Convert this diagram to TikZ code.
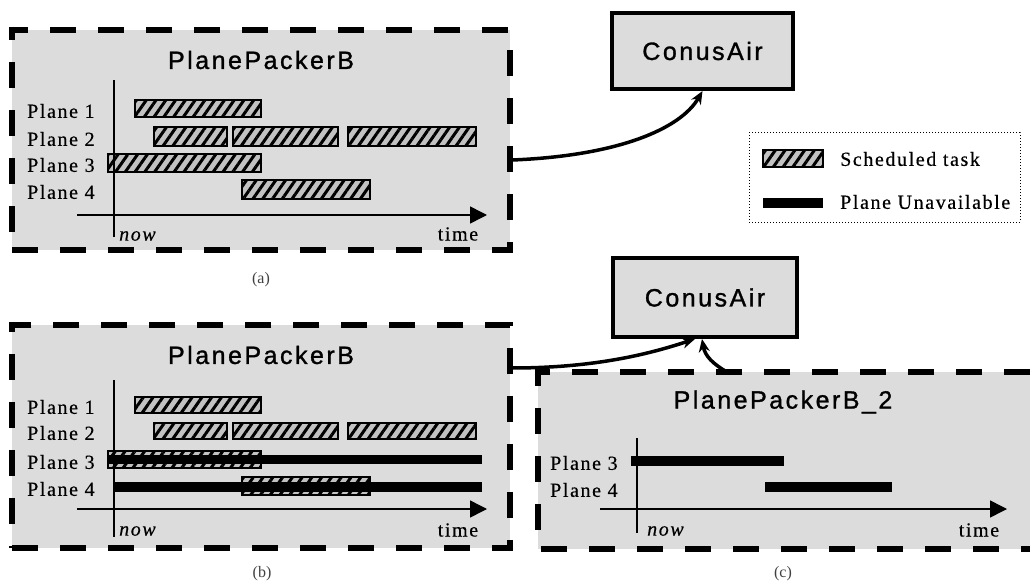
\documentclass[tikz,border=0pt]{standalone}
\usepackage{fontspec}
\setmainfont{Liberation Serif}
\newfontfamily\titlefont[LetterSpace=10,FakeBold=1.2]{Liberation Sans}
\newfontfamily\labelfont[LetterSpace=8,FakeBold=0.4]{Liberation Serif}
\usetikzlibrary{arrows.meta,patterns.meta,calc}
\definecolor{boxgray}{HTML}{DCDCDC}
\definecolor{hatchgray}{HTML}{C2C2C2}
\tikzset{
  agent/.style={draw=black, fill=boxgray, line width=6pt, dash pattern=on 26pt off 22pt, inner sep=0pt},
  agentdash/.style={draw=black, line width=6pt, dash pattern=on 26pt off 22pt},
  conus/.style={draw=black, fill=boxgray, line width=4pt, inner sep=0pt, font=\titlefont\fontsize{25}{29}\selectfont},
  title/.style={font=\titlefont\fontsize{25}{29}\selectfont, inner sep=0pt},
  plane/.style={font=\labelfont\fontsize{20}{24}\selectfont, anchor=west, inner sep=0pt},
  nowlbl/.style={font=\labelfont\itshape\fontsize{20}{24}\selectfont, anchor=west, inner sep=0pt},
  timelbl/.style={font=\labelfont\fontsize{20}{24}\selectfont, inner sep=0pt},
  legtext/.style={font=\labelfont\fontsize{20}{24}\selectfont, anchor=west, inner sep=0pt},
  taxis/.style={line width=1.5pt, -{Triangle[length=17pt,width=17pt]}},
  nowaxis/.style={line width=1.5pt},
  unavail/.style={line width=#1},
  link/.style={line width=3.5pt, -{Stealth[length=13pt,width=11pt]}},
  caption/.style={font=\fontsize{16}{18}\selectfont, text=black!75, inner sep=0pt}
}
\newcommand\taskrect[4]{%
  \fill[hatchgray] (#1,#2) rectangle (#3,#4);
  \path[pattern={Lines[angle=55,distance=8pt,line width=3pt]}, pattern color=black] (#1,#2) rectangle (#3,#4);
  \draw[line width=1.2pt] (#1,#2) rectangle (#3,#4);}
\begin{document}
\begin{tikzpicture}[x=1pt,y=-1pt]
\useasboundingbox (0,0) rectangle (1030,588);
% ---------- (a) ----------
\node[agent, minimum width=498pt, minimum height=220pt] (A) at (261,140) {};
\node[title] (At) at (261,60) {PlanePackerB};
\taskrect{135}{100}{261}{117}
\taskrect{154}{127}{227}{146}
\taskrect{233}{127}{338}{146}
\taskrect{348}{127}{476}{146}
\taskrect{108}{154}{261}{172}
\taskrect{242}{180}{370}{199}
\draw[nowaxis] (114,80) -- (114,237);
\draw[taxis] (77,215) -- (487,215);
\node[plane] (a1l) at (27,111) {Plane 1};
\node[plane] (a2l) at (27,139) {Plane 2};
\node[plane] (a3l) at (27,165) {Plane 3};
\node[plane] (a4l) at (27,192) {Plane 4};
\node[nowlbl] (anow) at (119,236) {now};
\node[timelbl] (atime) at (458,234) {time};
\node[caption] (capa) at (261,280) {(a)};
% ---------- ConusAir 1 ----------
\node[conus, minimum width=181pt, minimum height=76pt] (C1) at (702.5,51) {ConusAir};
% ---------- legend ----------
\node[draw, dotted, line width=1pt, minimum width=271pt, minimum height=89pt, inner sep=0pt] (L) at (884.5,177.5) {};
\taskrect{763}{150}{823}{167}
\node[legtext] (lt1) at (840,159) {Scheduled task};
\fill (763,198) rectangle (823,208);
\node[legtext] (lt2) at (840,202) {Plane Unavailable};
% ---------- (b) ----------
\node[agent, minimum width=498pt, minimum height=223pt] (B) at (261,436.5) {};
\node[title] (Bt) at (261,355) {PlanePackerB};
\taskrect{135}{397}{261}{413}
\taskrect{154}{423}{227}{439}
\taskrect{233}{423}{338}{439}
\taskrect{348}{423}{476}{439}
\taskrect{108}{451}{261}{468}
\taskrect{242}{477}{370}{495}
\draw[unavail=9pt] (108,459.5) -- (482,459.5);
\draw[unavail=10pt] (114,486.5) -- (482,486.5);
\draw[nowaxis] (114,380) -- (114,537);
\draw[taxis] (77,509) -- (487,509);
\node[plane] (b1l) at (27,407) {Plane 1};
\node[plane] (b2l) at (27,433) {Plane 2};
\node[plane] (b3l) at (27,462) {Plane 3};
\node[plane] (b4l) at (27,489) {Plane 4};
\node[nowlbl] (bnow) at (119,531) {now};
\node[timelbl] (btime) at (458,530) {time};
\node[caption] (capb) at (262,574) {(b)};
% ---------- ConusAir 2 ----------
\node[conus, minimum width=184pt, minimum height=79pt] (C2) at (705,297.5) {ConusAir};
% ---------- (c) ----------
\fill[boxgray] (538,372) rectangle (1030,549);
\coordinate (cTop) at (727,372);
\draw[link] (cTop) .. controls (713,364) and (705,356) .. ([xshift=-3pt]C2.south);
\draw[agentdash] (1030,372) -- (538,372) -- (538,549) -- (1030,549);
\node[title] (Ct) at (783,402) {PlanePackerB\_2};
\draw[unavail=10pt] (631,461) -- (784,461);
\draw[unavail=10pt] (765,487) -- (892,487);
\draw[nowaxis] (637,438) -- (637,533);
\draw[taxis] (600,509) -- (1007,509);
\node[plane] (c3l) at (550,463) {Plane 3};
\node[plane] (c4l) at (550,490) {Plane 4};
\node[nowlbl] (cnow) at (647,531) {now};
\node[timelbl] (ctime) at (979,530) {time};
\node[caption] (capc) at (783,574) {(c)};
% ---------- links ----------
\coordinate (aOut) at (512,160);
\draw[link] (aOut) .. controls (615,156) and (680,130) .. (C1.south);
\coordinate (bOut) at (512,368);
\draw[link] (bOut) .. controls (600,368) and (655,352) .. ([xshift=-10pt]C2.south);
\end{tikzpicture}
\end{document}
